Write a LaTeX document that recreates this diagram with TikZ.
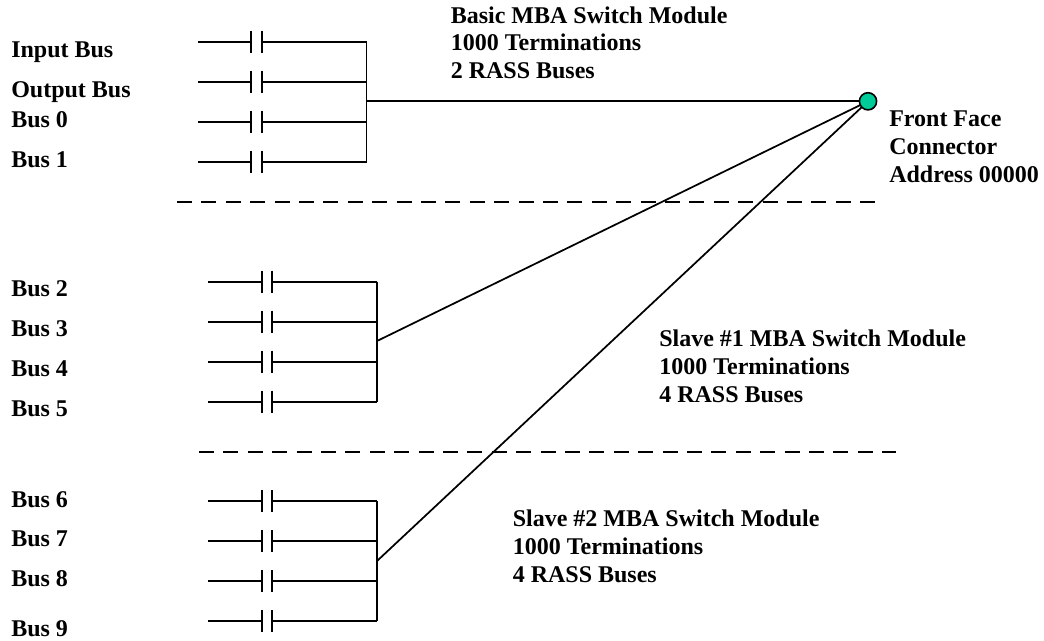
\documentclass[tikz,border=0pt]{standalone}
\usepackage{fontspec}
\setmainfont{Liberation Serif}
\usetikzlibrary{calc}
\tikzset{
  lbl/.style={font=\bfseries\fontsize{18}{20.7}\selectfont, anchor=base west, inner sep=0pt, align=left, text=black},
  wire/.style={line width=1.3pt, black},
  plate/.style={line width=1.3pt, black},
  sep/.style={line width=1.5pt, black, dash pattern=on 11.25pt off 7.05pt},
}
\newcommand{\ctc}[5]{% name, xleft, y, xgap, xright
  \coordinate (#1a) at (#2,#3);
  \coordinate (#1b) at (#4-5.3,#3);
  \coordinate (#1c) at (#4+5.3,#3);
  \coordinate (#1d) at (#5,#3);
  \draw[wire] (#1a) -- (#1b);
  \draw[wire] (#1c) -- (#1d);
  \draw[plate] ($(#1b)+(0,-11)$) -- ($(#1b)+(0,11)$);
  \draw[plate] ($(#1c)+(0,-11)$) -- ($(#1c)+(0,11)$);
}
\definecolor{termfill}{HTML}{00CC99}
\begin{document}
\begin{tikzpicture}[x=0.75pt,y=-0.75pt]
\useasboundingbox (0,0) rectangle (1044,640);
\fill[white] (0,0) rectangle (1044,640);
% Group 1
\ctc{p}{198}{41.7}{256.5}{366.5}
\ctc{q}{198}{81.7}{256.5}{366.5}
\ctc{r}{198}{121.7}{256.5}{366.5}
\ctc{s}{198}{161.7}{256.5}{366.5}
\draw[wire] (pd) -- (sd);
\coordinate (j1) at (366,101.3);
% Group 2
\ctc{t}{208}{281.7}{267}{377}
\ctc{u}{208}{321.7}{267}{377}
\ctc{v}{208}{361.7}{267}{377}
\ctc{w}{208}{401.7}{267}{377}
\draw[wire] (td) -- (wd);
\coordinate (j2) at (377,341);
% Group 3
\ctc{x}{208}{501.3}{267}{377}
\ctc{y}{208}{541.3}{267}{377}
\ctc{z}{208}{581.3}{267}{377}
\ctc{o}{208}{621.3}{267}{377}
\draw[wire] (xd) -- (od);
\coordinate (j3) at (377,561);
% Connector
\node[circle, draw=black, line width=1.2pt, fill=termfill, minimum size=12.9pt, inner sep=0pt, outer sep=0pt] (ff) at (868,101.3) {};
\draw[wire] (j1) -- (ff);
\draw[wire] (j2) -- (ff);
\draw[wire] (j3) -- (ff);
% separators
\coordinate (s1a) at (177,201.7); \coordinate (s1b) at (875,201.7);
\coordinate (s2a) at (199,451.7); \coordinate (s2b) at (896,451.7);
\draw[sep] (s1a) -- (s1b);
\draw[sep] (s2a) -- (s2b);
% labels
\node[lbl] (l1) at (11,57) {Input Bus};
\node[lbl] (l2) at (11,97.5) {Output Bus};
\node[lbl] (l3) at (11,127) {Bus 0};
\node[lbl] (l4) at (11,167) {Bus 1};
\node[lbl] (l5) at (11,296.7) {Bus 2};
\node[lbl] (l6) at (11,336.7) {Bus 3};
\node[lbl] (l7) at (11,376.7) {Bus 4};
\node[lbl] (l8) at (11,416.7) {Bus 5};
\node[lbl] (l9) at (11,507) {Bus 6};
\node[lbl] (l10) at (11,546.7) {Bus 7};
\node[lbl] (l11) at (11,586.7) {Bus 8};
\node[lbl] (l12) at (11,636.7) {Bus 9};
\node[lbl] (m1) at (450.5,78.5) {Basic MBA Switch Module\\1000 Terminations\\2 RASS Buses};
\node[lbl] (m2) at (889,182) {Front Face\\Connector\\Address 00000};
\node[lbl] (m3) at (659,402) {Slave \#1 MBA Switch Module\\1000 Terminations\\4 RASS Buses};
\node[lbl] (m4) at (512.5,582) {Slave \#2 MBA Switch Module\\1000 Terminations\\4 RASS Buses};
\end{tikzpicture}
\end{document}
